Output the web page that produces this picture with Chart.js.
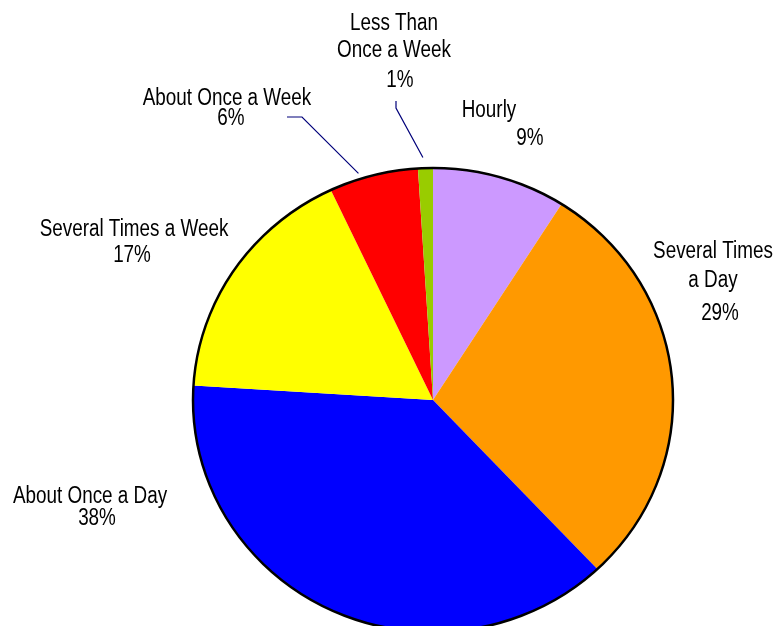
<!DOCTYPE html>
<html lang="en">
<head>
    <meta charset="UTF-8">
    <title>How often</title>
    <script src="https://cdn.jsdelivr.net/npm/chart.js"></script>
    <style>
        body {
            margin: 0;
            background: white;
            overflow: hidden;
        }
        #wrap {
            width: 775px;
            height: 660px;
        }
    </style>
</head>
<body>
    <div id="wrap">
        <canvas id="pie" width="775" height="660"></canvas>
    </div>

    <script>
        // data, clockwise from 12 o'clock
        const categoryLines = [
            ['Hourly'],
            ['Several Times', 'a Day'],
            ['About Once a Day'],
            ['Several Times a Week'],
            ['About Once a Week'],
            ['Less Than', 'Once a Week']
        ];
        const categories = categoryLines.map(l => l.join(' '));
        const shares = [9, 29, 38, 17, 6, 1];
        const colors = ['#CC99FF', '#FF9900', '#0000FF', '#FFFF00', '#FF0000', '#99CC00'];

        // label placement: line centres and baselines, percent position
        const labelPos = [
            { x: 489, y: [117], px: 530, py: 145 },
            { x: 713, y: [258, 287], px: 720, py: 320 },
            { x: 90, y: [503], px: 97, py: 525 },
            { x: 134, y: [236], px: 132, py: 262 },
            { x: 227, y: [105], px: 231, py: 125 },
            { x: 394, y: [30, 57], px: 400, py: 87 }
        ];
        // leader lines: start, elbow, and where they touch the slice
        const leaders = {
            4: { from: [287, 117], elbow: [302, 117], frac: 0.35, gap: 6 },
            5: { from: [396, 101], elbow: [396, 108], frac: 0.36, gap: 11 }
        };

        const squash = 232 / 240;   // pie is a bit flatter than round
        const narrow = 0.82;        // no narrow face installed, so squeeze the regular one
        const font = '23px "Liberation Sans", Arial, sans-serif';

        function narrowText(ctx, t, x, y) {
            ctx.save();
            ctx.translate(x, y);
            ctx.scale(narrow, 1);
            ctx.fillText(t, 0, 0);
            ctx.restore();
        }

        const piePlugin = {
            id: 'piePlugin',
            beforeDatasetsDraw(chart) {
                const arc = chart.getDatasetMeta(0).data[0];
                const ctx = chart.ctx;
                ctx.save();
                ctx.translate(arc.x, arc.y);
                ctx.scale(1, squash);
                ctx.translate(-arc.x, -arc.y);
            },
            afterDatasetsDraw(chart) {
                const ctx = chart.ctx;
                ctx.restore();
                const arcs = chart.getDatasetMeta(0).data;
                const a0 = arcs[0];
                const R = a0.outerRadius;

                // outer rim
                ctx.save();
                ctx.beginPath();
                ctx.ellipse(a0.x, a0.y, R, R * squash, 0, 0, Math.PI * 2);
                ctx.lineWidth = 2.5;
                ctx.strokeStyle = '#000';
                ctx.stroke();

                // leader lines
                ctx.strokeStyle = '#00007A';
                ctx.lineWidth = 1.2;
                Object.keys(leaders).forEach(k => {
                    const L = leaders[k];
                    const a = arcs[k];
                    const ang = a.startAngle + L.frac * (a.endAngle - a.startAngle);
                    const r = R + L.gap;
                    ctx.beginPath();
                    ctx.moveTo(L.from[0], L.from[1]);
                    ctx.lineTo(L.elbow[0], L.elbow[1]);
                    ctx.lineTo(a.x + r * Math.cos(ang), a.y + r * squash * Math.sin(ang));
                    ctx.stroke();
                });

                // labels
                ctx.fillStyle = '#000';
                ctx.font = font;
                ctx.textAlign = 'center';
                ctx.textBaseline = 'alphabetic';
                categoryLines.forEach((lines, i) => {
                    const p = labelPos[i];
                    lines.forEach((t, j) => narrowText(ctx, t, p.x, p.y[j]));
                    narrowText(ctx, shares[i] + '%', p.px, p.py);
                });
                ctx.restore();
            }
        };

        new Chart(document.getElementById('pie').getContext('2d'), {
            type: 'pie',
            data: {
                labels: categories,
                datasets: [{
                    data: shares,
                    backgroundColor: colors,
                    borderColor: colors,
                    borderWidth: 0
                }]
            },
            options: {
                responsive: false,
                animation: false,
                layout: {
                    padding: { left: 193, right: 102, top: 160, bottom: 20 }
                },
                plugins: {
                    legend: { display: false },
                    tooltip: { enabled: false }
                }
            },
            plugins: [piePlugin]
        });
    </script>
</body>
</html>
